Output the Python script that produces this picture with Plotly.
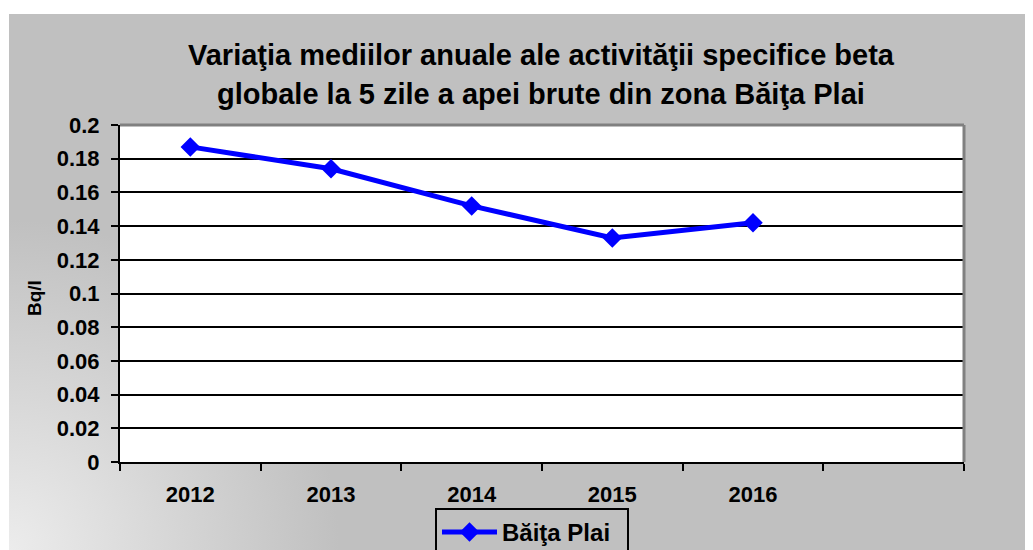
import base64
import plotly.graph_objects as go

# ---- data ----
years = ["2012", "2013", "2014", "2015", "2016"]
values = [0.187, 0.174, 0.152, 0.133, 0.142]
series_name = "Băiţa Plai"
title_lines = ["Variaţia mediilor anuale ale activităţii specifice beta",
               "globale la 5 zile a apei brute din zona Băiţa Plai"]
y_title = "Bq/l"
blank_slot = [" "]

# ---- geometry (page has an 8px body margin) ----
OFF = 8
W, H = 1033, 550
PL, PR, PT, PB = 120, 964, 125, 462          # plot box in window pixels
ML, MT = PL - OFF, PT - OFF
MR, MB = W - (PR - OFF), H - (PB - OFF)
PW, PH = W - ML - MR, H - MT - MB

def px_x(x):
    return (x - OFF - ML) / PW

def px_y(y):
    return (H - MB - (y - OFF)) / PH

FONT = "Liberation Sans, Arial, sans-serif"

gx, gy = 9 - OFF, 14 - OFF
svg = f'''<svg xmlns="http://www.w3.org/2000/svg" width="{W}" height="{H}" viewBox="0 0 {W} {H}" preserveAspectRatio="none">
<defs><radialGradient id="g" cx="{gx}" cy="{H - OFF}" r="330" gradientUnits="userSpaceOnUse">
<stop offset="0" stop-color="#ececec"/><stop offset="1" stop-color="#c0c0c0"/></radialGradient></defs>
<rect width="{W}" height="{H}" fill="#ffffff"/>
<rect x="{gx}" y="{gy}" width="{W - gx}" height="{H - gy}" fill="url(#g)"/>
</svg>'''
src = "data:image/svg+xml;base64," + base64.b64encode(svg.encode()).decode()

fig = go.Figure()
fig.add_trace(go.Scatter(
    x=years, y=values, name=series_name, mode="lines+markers",
    line=dict(color="#0000FF", width=5),
    marker=dict(symbol="diamond", size=15, color="#0000FF"),
))

fig.update_layout(
    width=W, height=H,
    margin=dict(l=ML, r=MR, t=MT, b=MB, autoexpand=False),
    paper_bgcolor="#ffffff", plot_bgcolor="#ffffff",
    font=dict(family=FONT, color="#000000"),
    showlegend=True,
    legend=dict(
        orientation="h", x=px_x(532), xanchor="center", y=px_y(508), yanchor="top",
        bgcolor="rgba(0,0,0,0)", bordercolor="#000000", borderwidth=2,
        itemwidth=55, entrywidth=120,
        font=dict(size=24, family=FONT, weight="bold"),
    ),
    xaxis=dict(
        type="category", categoryorder="array", categoryarray=years + blank_slot,
        range=[-0.5, 5.5], tickson="boundaries", ticks="outside", ticklen=7,
        tickwidth=2, tickcolor="#000000", showline=True, linecolor="#000000",
        linewidth=2, showgrid=False, ticklabelstandoff=12,
        tickfont=dict(size=22, family=FONT, weight="bold"),
    ),
    yaxis=dict(
        range=[0, 0.2], dtick=0.02, tickformat="~g", ticks="outside", ticklen=7,
        tickwidth=2, tickcolor="#000000", showline=True, linecolor="#000000",
        linewidth=2, showgrid=True, gridcolor="#000000", gridwidth=2,
        zeroline=False, ticklabelstandoff=7,
        tickfont=dict(size=22, family=FONT, weight="bold"),
    ),
    images=[dict(source=src, xref="paper", yref="paper", x=-ML / PW, y=(H - MB) / PH,
                 sizex=W / PW, sizey=H / PH, xanchor="left", yanchor="top",
                 sizing="stretch", layer="below")],
    shapes=[
        dict(type="rect", xref="paper", yref="paper", x0=0, x1=1, y0=0, y1=1,
             fillcolor="#ffffff", line=dict(width=0), layer="below"),
        dict(type="line", xref="paper", yref="paper", x0=0, x1=1, y0=1, y1=1,
             line=dict(color="#808080", width=3), layer="above"),
        dict(type="line", xref="paper", yref="paper", x0=1, x1=1, y0=0, y1=1,
             line=dict(color="#808080", width=3), layer="above"),
    ],
    annotations=[
        dict(text=f"<b>{title_lines[0]}</b>", xref="paper", yref="paper",
             x=px_x(541), y=px_y(55), xanchor="center", yanchor="middle",
             showarrow=False, font=dict(size=29, family=FONT)),
        dict(text=f"<b>{title_lines[1]}</b>", xref="paper", yref="paper",
             x=px_x(541), y=px_y(94), xanchor="center", yanchor="middle",
             showarrow=False, font=dict(size=29, family=FONT)),
        dict(text=f"<b>{y_title}</b>", xref="paper", yref="paper",
             x=px_x(34), y=px_y(298), xanchor="center", yanchor="middle",
             textangle=-90, showarrow=False, font=dict(size=19, family=FONT)),
    ],
)

fig.write_html("out.html")
